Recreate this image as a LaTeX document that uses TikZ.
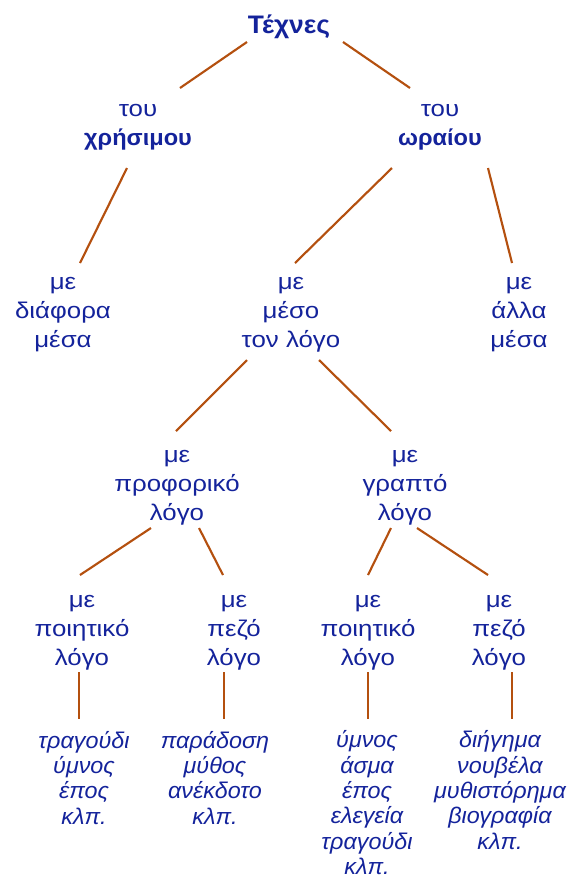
\documentclass[tikz,border=0pt]{standalone}
\usepackage{fontspec}
\setmainfont{Liberation Sans}
\newfontfamily\regf{Liberation Sans}[FakeStretch=1.14]
\newfontfamily\bldf{Liberation Sans}[FakeStretch=1.04]
\newfontfamily\itf{Liberation Sans}[FakeStretch=1.03]
\usetikzlibrary{calc}
\definecolor{txtblue}{RGB}{20,35,155}
\definecolor{linebrown}{RGB}{180,80,15}
\newcommand\linkto[6]{\draw[conn] ($(#1.base)+(#2,#3)$) -- ($(#4.base)+(#5,#6)$);}
\newcommand\bw[1]{{\bldf\bfseries #1}}
\begin{document}
\begin{tikzpicture}[x=0.75pt,y=-0.75pt,
  lbl/.style={anchor=base, inner sep=0pt, align=center, text=txtblue, font=\fontsize{17}{21.75}\selectfont\regf},
  ttl/.style={lbl, font=\fontsize{19}{21.75}\selectfont\bldf\bfseries},
  leaf/.style={lbl, font=\fontsize{17}{19}\selectfont\itf\itshape},
  conn/.style={draw=linebrown, line width=1.6pt}]
\useasboundingbox (0,0) rectangle (573,876);
\node[ttl] (t) at (289,33) {Τέχνες};
\node[lbl] (u) at (138,145) {του\\\bw{χρήσιμου}};
\node[lbl] (o) at (440,145) {του\\\bw{ωραίου}};
\node[lbl] (a) at (63,347) {με\\διάφορα\\μέσα};
\node[lbl] (b) at (291,347) {με\\μέσο\\τον λόγο};
\node[lbl] (c) at (519,347) {με\\άλλα\\μέσα};
\node[lbl] (d) at (177,520) {με\\προφορικό\\λόγο};
\node[lbl] (e) at (405,520) {με\\γραπτό\\λόγο};
\node[lbl] (f) at (82,665) {με\\ποιητικό\\λόγο};
\node[lbl] (g) at (234,665) {με\\πεζό\\λόγο};
\node[lbl] (h) at (368,665) {με\\ποιητικό\\λόγο};
\node[lbl] (i) at (499,665) {με\\πεζό\\λόγο};
\node[leaf] (j) at (84,824) {τραγούδι\\ύμνος\\έπος\\κλπ.};
\node[leaf] (k) at (215,824) {παράδοση\\μύθος\\ανέκδοτο\\κλπ.};
\node[leaf] (l) at (367,874.5) {ύμνος\\άσμα\\έπος\\ελεγεία\\τραγούδι\\κλπ.};
\node[leaf] (m) at (500,849) {διήγημα\\νουβέλα\\μυθιστόρημα\\βιογραφία\\κλπ.};
\linkto{t}{-42}{9}{u}{42}{-57}
\linkto{t}{54}{9}{o}{-30}{-57}
\linkto{u}{-11}{23}{a}{17}{-84}
\linkto{o}{-48}{23}{b}{4}{-84}
\linkto{o}{48}{23}{c}{-7}{-84}
\linkto{b}{-44}{13}{d}{-1}{-89}
\linkto{b}{28}{13}{e}{-14}{-89}
\linkto{d}{-26}{8}{f}{-2}{-90}
\linkto{d}{22}{8}{g}{-11}{-90}
\linkto{e}{-14}{8}{h}{0}{-90}
\linkto{e}{12}{8}{i}{-11}{-90}
\linkto{f}{-3}{7}{j}{-5}{-105}
\linkto{g}{-10}{7}{k}{9}{-105}
\linkto{h}{0}{7}{l}{1}{-155.5}
\linkto{i}{13}{7}{m}{12}{-130}
\end{tikzpicture}
\end{document}
